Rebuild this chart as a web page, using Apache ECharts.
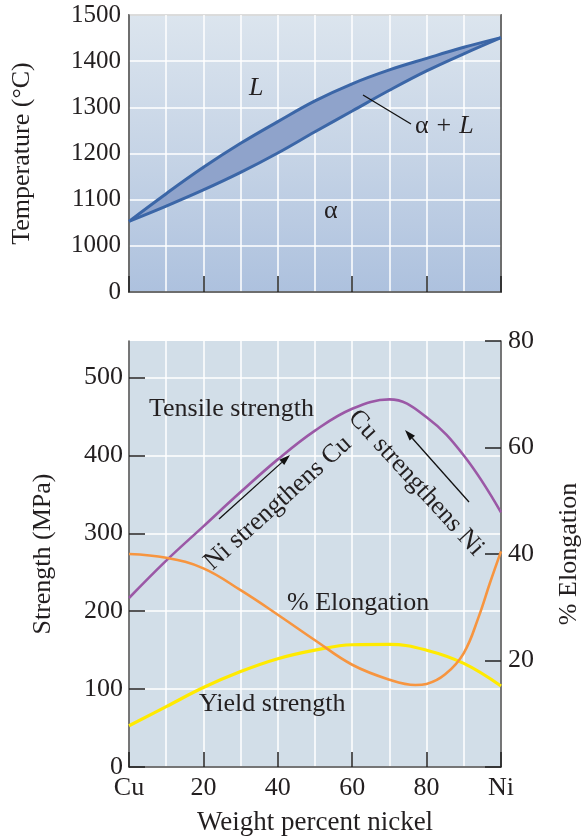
<!DOCTYPE html>
<html><head><meta charset="utf-8">
<script src="https://cdn.jsdelivr.net/npm/echarts@6/dist/echarts.min.js"></script>
<style>html,body{margin:0;padding:0;background:#fff}#c{width:582px;height:836px}</style>
</head><body><div id="c"></div><script>
// ---- data ----
const wtNi = [0,10,20,30,40,50,60,70,80,90,100];
const liquidus = [1053,1113,1170,1222,1269,1314,1351,1381,1406,1430,1451];
const solidus  = [1053,1086,1121,1159,1201,1247,1292,1337,1379,1416,1451];
const tensile  = [217,265,309,353,395,432,460,472,449,400,327];
const yieldStr = [53,77.5,102,122.5,139,150,157,157.5,150,133,104];
const elongX   = [0,10,20,30,40,50,60,70,77,80,85,90,94,97,100];
const elongY   = [40,39.3,37.3,33.2,28.6,23.8,19.2,16.4,15.4,15.6,17.4,21.4,28.2,34.5,40.5];
const tempTicks = [900,1000,1100,1200,1300,1400,1500];
const tempTickLabels = ['0','1000','1100','1200','1300','1400','1500'];
const xTickLabels = {0:'Cu',20:'20',40:'40',60:'60',80:'80',100:'Ni'};
const strengthTicks = [0,100,200,300,400,500];
const elongTicks = [20,40,60,80];

const FONT = 'Liberation Serif';
const TXT = '#231f20';
const AX = '#4a4a4a';
const zip = (xs, ys) => xs.map((x, i) => [x, ys[i]]);
const band = liquidus.map((v, i) => v - solidus[i]);

const chart = echarts.init(document.getElementById('c'), null, {renderer: 'canvas'});

function arrow(x1, y1, x2, y2) {
  const a = Math.atan2(y2 - y1, x2 - x1), L = 11, W = 3.6;
  const bx = x2 - L * Math.cos(a), by = y2 - L * Math.sin(a);
  return [
    {type: 'line', shape: {x1, y1, x2: bx, y2: by}, style: {stroke: '#111', lineWidth: 1.3}, z: 10},
    {type: 'polygon', shape: {points: [[x2, y2], [bx + W * Math.sin(a), by - W * Math.cos(a)], [bx - W * Math.sin(a), by + W * Math.cos(a)]]}, style: {fill: '#111'}, z: 10}
  ];
}
const F26 = '26px "' + FONT + '"';
function txt(text, x, y, font) {
  return {type: 'text', x, y, z: 10,
    style: {text, font: font || F26, fill: TXT, align: 'left', verticalAlign: 'middle'}};
}

const topLabel = {fontFamily: FONT, fontSize: 25, color: TXT};
const botLabel = {fontFamily: FONT, fontSize: 26, color: TXT};
const nameStyle = {fontFamily: FONT, fontSize: 26, color: TXT};

const option = {
  animation: false,
  grid: [
    {left: 129, top: 15, width: 372, height: 277, show: true, outerBoundsMode: 'none', containLabel: false,
      backgroundColor: {type: 'linear', x: 0, y: 0, x2: 0, y2: 1,
        colorStops: [{offset: 0, color: '#dce5ee'}, {offset: 0.5, color: '#c6d4e6'}, {offset: 1, color: '#adc1de'}]},
      borderColor: AX, borderWidth: 1.5},
    {left: 129, top: 341, width: 372, height: 426, show: true, outerBoundsMode: 'none', containLabel: false,
      backgroundColor: '#d2dee8', borderWidth: 0}
  ],
  xAxis: [
    {gridIndex: 0, type: 'category', data: wtNi.map(String), boundaryGap: false,
      axisLine: {lineStyle: {color: AX, width: 1.5}},
      axisTick: {inside: true, length: 16, interval: (i) => i % 2 === 0, lineStyle: {color: '#222', width: 1.5}},
      axisLabel: {show: false},
      splitLine: {show: true, interval: 0, lineStyle: {color: '#fff', width: 1.5}}},
    {gridIndex: 1, type: 'value', min: 0, max: 100, interval: 20,
      name: 'Weight percent nickel', nameLocation: 'middle', nameGap: 42,
      nameTextStyle: {fontFamily: FONT, fontSize: 27, color: TXT},
      axisLine: {lineStyle: {color: AX, width: 1.5}},
      axisTick: {inside: true, length: 15, lineStyle: {color: '#222', width: 1.5}},
      axisLabel: Object.assign({margin: 8, formatter: v => xTickLabels[v] !== undefined ? xTickLabels[v] : ''}, botLabel),
      splitLine: {show: true, lineStyle: {color: '#fff', width: 1.5}},
      minorTick: {show: false, splitNumber: 2},
      minorSplitLine: {show: true, lineStyle: {color: '#fff', width: 1.5}}}
  ],
  yAxis: [
    {gridIndex: 0, type: 'value', min: tempTicks[0], max: tempTicks[tempTicks.length - 1], interval: 100,
      name: 'Temperature (°C)', nameLocation: 'middle', nameGap: 94, nameRotate: 90, nameTextStyle: nameStyle,
      axisLine: {show: true, lineStyle: {color: AX, width: 1.5}},
      axisTick: {inside: true, length: 16, lineStyle: {color: '#222', width: 1.5}},
      axisLabel: Object.assign({margin: 8, formatter: v => tempTickLabels[tempTicks.indexOf(v)] || ''}, topLabel),
      splitLine: {show: true, lineStyle: {color: '#fff', width: 1.5}}},
    {gridIndex: 0, type: 'value', position: 'right', min: tempTicks[0], max: tempTicks[tempTicks.length - 1], interval: 100,
      axisLine: {show: true, lineStyle: {color: AX, width: 1.5}},
      axisTick: {inside: true, length: 15, lineStyle: {color: '#222', width: 1.5}},
      axisLabel: {show: false}, splitLine: {show: false}},
    {gridIndex: 1, type: 'value', min: 0, max: 547, interval: 100,
      name: 'Strength (MPa)', nameLocation: 'middle', nameGap: 73, nameRotate: 90, nameTextStyle: nameStyle,
      axisLine: {show: true, lineStyle: {color: AX, width: 1.5}},
      axisTick: {inside: true, length: 16, customValues: strengthTicks, lineStyle: {color: '#222', width: 1.5}},
      axisLabel: Object.assign({margin: 6, customValues: strengthTicks,
        formatter: v => strengthTicks.indexOf(v) >= 0 ? String(v) : ''}, botLabel),
      splitLine: {show: true, lineStyle: {color: '#fff', width: 1.5}}},
    {gridIndex: 1, type: 'value', position: 'right', min: 0, max: 80, interval: 20,
      name: '% Elongation', nameLocation: 'middle', nameGap: 55, nameRotate: 90, nameTextStyle: nameStyle,
      axisLine: {show: true, lineStyle: {color: AX, width: 1.5}},
      axisTick: {inside: true, length: 16, lineStyle: {color: '#222', width: 1.5}},
      axisLabel: Object.assign({margin: 7, formatter: v => elongTicks.indexOf(v) >= 0 ? String(v) : ''}, botLabel),
      splitLine: {show: false}}
  ],
  series: [
    {type: 'line', name: 'solidus', xAxisIndex: 0, yAxisIndex: 0, data: solidus, stack: 'phase',
      smooth: 0.4, symbol: 'none', z: 4, lineStyle: {color: '#3b66a7', width: 3}},
    {type: 'line', name: 'liquidus', xAxisIndex: 0, yAxisIndex: 0, data: band, stack: 'phase',
      smooth: 0.4, symbol: 'none', z: 3, lineStyle: {color: '#3b66a7', width: 3},
      areaStyle: {color: '#8fa3cb', opacity: 1}},
    {type: 'line', name: 'Tensile strength', xAxisIndex: 1, yAxisIndex: 2, data: zip(wtNi, tensile),
      smooth: 0.4, symbol: 'none', lineStyle: {color: '#9b58a6', width: 2.6}},
    {type: 'line', name: 'Yield strength', xAxisIndex: 1, yAxisIndex: 2, data: zip(wtNi, yieldStr),
      smooth: 0.4, symbol: 'none', lineStyle: {color: '#ffea00', width: 3.2}},
    {type: 'line', name: '% Elongation', xAxisIndex: 1, yAxisIndex: 3, data: zip(elongX, elongY),
      smooth: 0.4, symbol: 'none', lineStyle: {color: '#f7953f', width: 2.6}}
  ],
  graphic: [
    txt('L', 249, 88, 'italic 26px "' + FONT + '"'),
    {type: 'line', shape: {x1: 363, y1: 95, x2: 411, y2: 124}, style: {stroke: '#111', lineWidth: 1.3}, z: 10},
    {type: 'text', x: 415, y: 126, z: 10, style: {
      text: '{a|α}{p|+}{l|L}', verticalAlign: 'middle', align: 'left', fill: TXT,
      rich: {a: {font: F26, fill: TXT}, p: {font: F26, fill: TXT, padding: [0, 8, 0, 8]},
        l: {font: 'italic 26px "' + FONT + '"', fill: TXT}}}},
    txt('α', 324, 211),
    txt('Tensile strength', 149, 409),
    txt('% Elongation', 287, 603),
    txt('Yield strength', 199, 704),
    {type: 'text', x: 278, y: 503, rotation: 0.73, z: 10,
      style: {text: 'Ni strengthens Cu', font: F26, fill: TXT, align: 'center', verticalAlign: 'middle'}},
    {type: 'text', x: 416, y: 483, rotation: -0.83, z: 10,
      style: {text: 'Cu strengthens Ni', font: F26, fill: TXT, align: 'center', verticalAlign: 'middle'}},
    ...arrow(219, 519, 290, 455),
    ...arrow(469, 502, 405, 430)
  ]
};
chart.setOption(option);
</script></body></html>
